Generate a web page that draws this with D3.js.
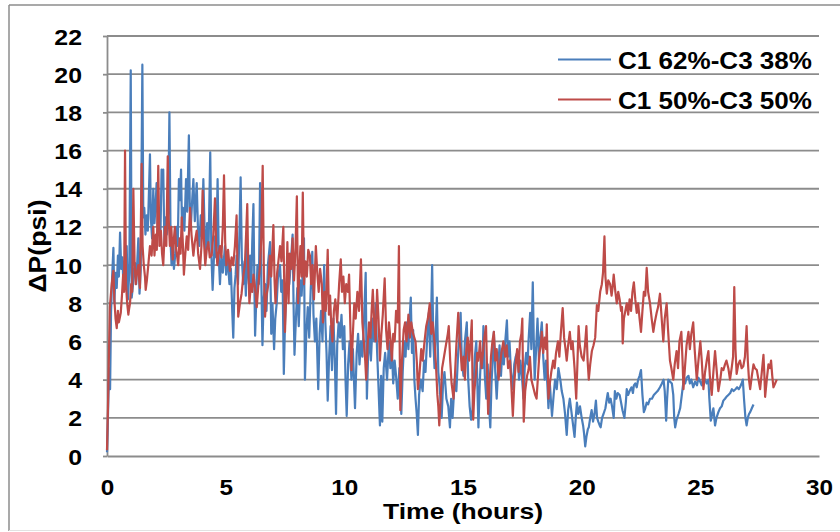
<!DOCTYPE html>
<html>
<head>
<meta charset="utf-8">
<script src="https://cdn.jsdelivr.net/npm/d3@7"></script>
<style>
  html, body { margin: 0; padding: 0; background: #ffffff; }
  svg { display: block; }
  text { font-family: "Liberation Sans", Arial, sans-serif; font-weight: bold; fill: #000; }
</style>
</head>
<body>
<svg id="chart" width="840" height="532"></svg>
<script>
// ---------------- DATA ----------------
const xTickValues = [0, 5, 10, 15, 20, 25, 30];
const yTickValues = [0, 2, 4, 6, 8, 10, 12, 14, 16, 18, 20, 22];
const xTitle = "Time (hours)";
const yTitle = "\u0394P(psi)";
const seriesNames = ["C1 62%-C3 38%", "C1 50%-C3 50%"];

// [time (hours), ΔP (psi)]
const blueSeries = [[0,0.2],[0.03,1.5],[0.06,3.2],[0.1,4.6],[0.13,3.5],[0.17,7.5],[0.22,9.5],[0.27,10.9],[0.31,8.0],[0.36,9.6],[0.41,8.8],[0.46,10.5],[0.5,9.4],[0.55,11.7],[0.6,9.8],[0.65,10.4],[0.69,9.0],[0.74,10.2],[0.79,9.2],[0.83,11.0],[0.88,8.2],[0.94,9.6],[1.0,20.2],[1.04,8.3],[1.09,8.9],[1.14,9.8],[1.18,10.1],[1.23,9.0],[1.28,10.3],[1.32,11.4],[1.37,8.5],[1.42,9.7],[1.49,20.5],[1.53,12.5],[1.57,13.0],[1.62,11.6],[1.67,12.6],[1.72,11.8],[1.76,13.5],[1.81,15.8],[1.85,12.4],[1.9,11.4],[1.95,14.0],[2.0,12.2],[2.05,13.2],[2.09,14.3],[2.14,12.0],[2.19,13.0],[2.25,11.5],[2.3,15.0],[2.34,14.0],[2.37,15.0],[2.42,11.0],[2.47,12.5],[2.52,11.6],[2.58,12.8],[2.63,18.0],[2.68,11.2],[2.72,10.0],[2.77,11.0],[2.82,9.8],[2.88,10.6],[2.93,12.0],[2.98,11.0],[3.03,14.5],[3.07,13.4],[3.12,15.0],[3.16,12.0],[3.2,13.0],[3.26,11.8],[3.33,14.5],[3.38,12.8],[3.45,16.8],[3.49,13.0],[3.53,12.0],[3.58,13.2],[3.64,14.5],[3.7,12.3],[3.78,14.3],[3.83,12.0],[3.89,11.0],[3.95,12.6],[4.0,11.5],[4.06,14.5],[4.11,12.0],[4.17,10.5],[4.22,12.2],[4.28,11.0],[4.35,15.9],[4.4,10.5],[4.45,8.7],[4.5,10.2],[4.55,11.5],[4.6,10.4],[4.66,14.5],[4.71,10.4],[4.76,9.0],[4.82,10.5],[4.88,9.6],[4.97,11.0],[5.02,9.5],[5.08,10.4],[5.16,9.0],[5.22,9.8],[5.28,7.5],[5.32,6.2],[5.37,8.8],[5.42,9.5],[5.46,10.5],[5.52,9.0],[5.58,11.6],[5.63,14.6],[5.68,10.4],[5.74,9.0],[5.8,10.2],[5.85,8.4],[5.89,11.0],[5.94,9.6],[5.98,9.0],[6.03,10.5],[6.08,8.8],[6.12,11.2],[6.17,13.2],[6.21,9.0],[6.24,6.3],[6.3,8.6],[6.34,10.0],[6.4,9.0],[6.45,14.3],[6.5,9.4],[6.55,5.8],[6.6,8.2],[6.66,9.0],[6.72,7.6],[6.78,10.0],[6.87,11.2],[6.92,6.4],[6.97,8.0],[7.04,5.6],[7.09,7.2],[7.15,8.0],[7.2,9.3],[7.29,10.0],[7.34,8.6],[7.4,9.2],[7.45,4.3],[7.5,7.0],[7.56,8.8],[7.62,9.6],[7.68,9.0],[7.75,10.2],[7.82,11.6],[7.86,8.0],[7.9,5.3],[7.96,7.2],[8.02,8.8],[8.08,6.8],[8.14,9.2],[8.2,8.4],[8.26,10.0],[8.3,11.4],[8.34,4.0],[8.4,6.5],[8.46,7.8],[8.52,6.2],[8.58,8.6],[8.65,10.7],[8.7,7.4],[8.76,6.0],[8.82,7.2],[8.9,3.5],[8.96,6.4],[9.02,7.6],[9.08,6.0],[9.15,10.0],[9.2,7.0],[9.25,5.4],[9.3,2.9],[9.36,5.2],[9.42,6.8],[9.48,4.5],[9.54,7.2],[9.6,5.0],[9.65,2.2],[9.7,5.8],[9.76,7.0],[9.82,6.2],[9.88,7.4],[9.94,5.6],[10.0,6.8],[10.05,4.0],[10.1,2.1],[10.16,4.8],[10.22,6.0],[10.3,4.0],[10.36,5.6],[10.45,2.5],[10.52,5.4],[10.58,6.4],[10.64,4.8],[10.7,6.0],[10.76,5.2],[10.82,6.8],[10.9,9.6],[10.95,3.0],[11.0,5.2],[11.06,6.4],[11.12,5.0],[11.2,7.2],[11.26,6.0],[11.32,8.0],[11.38,5.5],[11.44,3.6],[11.5,1.6],[11.55,4.2],[11.6,1.8],[11.66,4.6],[11.72,5.4],[11.8,4.0],[11.88,6.0],[11.94,4.6],[12.0,5.6],[12.06,3.8],[12.12,5.0],[12.18,4.2],[12.25,3.0],[12.32,4.6],[12.4,2.2],[12.46,4.4],[12.52,6.0],[12.58,5.2],[12.64,7.0],[12.7,5.6],[12.76,7.4],[12.8,8.3],[12.85,5.4],[12.9,6.6],[12.95,4.0],[13.0,3.0],[13.05,2.2],[13.1,1.1],[13.15,3.2],[13.22,4.0],[13.3,3.4],[13.36,5.0],[13.42,4.4],[13.5,6.4],[13.56,7.5],[13.62,5.2],[13.7,10.0],[13.75,6.0],[13.8,4.6],[13.86,6.8],[13.9,8.3],[13.96,4.4],[14.02,3.6],[14.1,2.0],[14.16,3.8],[14.22,4.4],[14.3,3.0],[14.38,2.6],[14.45,1.5],[14.5,3.0],[14.56,2.0],[14.65,4.0],[14.72,3.4],[14.8,5.5],[14.86,6.4],[14.9,7.5],[14.95,5.0],[15.02,4.2],[15.08,6.0],[15.16,7.0],[15.22,4.0],[15.28,2.6],[15.34,1.9],[15.4,2.4],[15.45,3.8],[15.5,5.2],[15.56,6.0],[15.6,4.0],[15.65,1.5],[15.7,3.6],[15.76,5.4],[15.82,4.6],[15.86,6.8],[15.92,4.2],[15.98,3.0],[16.04,4.8],[16.1,2.6],[16.15,1.5],[16.2,3.8],[16.26,5.2],[16.3,6.5],[16.36,4.4],[16.42,3.0],[16.48,4.6],[16.54,5.8],[16.6,4.2],[16.66,5.6],[16.72,4.8],[16.78,6.0],[16.85,7.1],[16.9,5.2],[16.96,6.0],[17.02,4.4],[17.1,3.5],[17.16,4.8],[17.22,5.2],[17.3,5.5],[17.36,4.0],[17.42,5.0],[17.48,4.2],[17.55,3.0],[17.6,4.6],[17.66,5.4],[17.72,4.8],[17.76,6.0],[17.83,7.5],[17.88,5.6],[17.94,9.1],[17.98,6.2],[18.02,4.0],[18.08,5.6],[18.14,7.2],[18.2,5.0],[18.26,6.2],[18.32,7.0],[18.38,5.2],[18.44,4.0],[18.5,5.0],[18.56,3.6],[18.6,2.5],[18.66,3.8],[18.7,3.0],[18.75,2.1],[18.82,3.2],[18.88,4.0],[18.95,3.5],[19.02,4.6],[19.1,4.0],[19.16,3.4],[19.23,3.0],[19.3,2.2],[19.37,1.1],[19.43,2.4],[19.5,3.0],[19.56,2.4],[19.62,1.8],[19.7,1.0],[19.75,2.0],[19.8,2.8],[19.86,2.2],[19.93,2.6],[20.0,2.0],[20.06,1.6],[20.1,1.2],[20.15,0.5],[20.2,1.0],[20.26,1.4],[20.3,1.5],[20.36,2.0],[20.42,2.4],[20.48,1.8],[20.54,2.2],[20.6,2.9],[20.65,2.0],[20.7,1.8],[20.76,1.6],[20.8,1.5],[20.86,2.0],[20.92,2.2],[21.0,2.5],[21.06,3.0],[21.1,3.3],[21.16,2.8],[21.22,3.0],[21.28,2.6],[21.35,2.0],[21.4,3.4],[21.46,3.0],[21.52,3.3],[21.6,3.2],[21.66,2.8],[21.72,2.4],[21.8,2.0],[21.86,2.8],[21.9,3.5],[21.96,3.2],[22.02,3.4],[22.1,3.6],[22.16,3.3],[22.2,3.7],[22.26,3.8],[22.32,3.6],[22.38,4.0],[22.44,4.2],[22.5,4.5],[22.56,3.2],[22.62,2.3],[22.68,2.5],[22.74,2.8],[22.8,2.7],[22.88,3.0],[22.96,3.0],[23.04,3.2],[23.12,3.3],[23.2,3.4],[23.3,3.6],[23.38,3.8],[23.45,4.0],[23.5,3.4],[23.56,1.85],[23.6,3.0],[23.65,4.0],[23.72,3.9],[23.8,3.8],[23.86,3.2],[23.9,2.0],[23.94,1.5],[24.0,1.9],[24.08,2.2],[24.15,2.5],[24.22,3.2],[24.3,4.0],[24.36,3.8],[24.42,4.1],[24.5,4.2],[24.56,3.8],[24.62,4.0],[24.7,3.6],[24.78,3.9],[24.86,3.7],[24.92,4.1],[24.99,3.9],[25.06,3.7],[25.12,4.1],[25.2,4.0],[25.27,3.8],[25.34,4.0],[25.38,3.0],[25.44,1.85],[25.5,2.2],[25.55,2.5],[25.62,1.6],[25.68,2.0],[25.76,2.3],[25.83,2.5],[25.9,2.6],[25.97,2.9],[26.04,3.0],[26.1,3.1],[26.18,3.2],[26.26,3.3],[26.33,3.5],[26.4,3.4],[26.48,3.5],[26.55,3.6],[26.62,3.5],[26.67,3.6],[26.74,3.8],[26.79,4.0],[26.84,3.0],[26.9,2.0],[26.95,1.6],[27.0,2.0],[27.05,2.2],[27.1,2.3],[27.17,2.5],[27.24,2.7]];

const redSeries = [[0,0.3],[0.04,2.5],[0.08,5.2],[0.12,7.8],[0.16,8.4],[0.2,9.0],[0.27,9.7],[0.31,8.2],[0.36,7.2],[0.41,6.7],[0.46,7.6],[0.5,7.0],[0.55,7.3],[0.58,7.5],[0.63,8.4],[0.68,9.5],[0.72,8.6],[0.76,16.0],[0.8,9.0],[0.85,8.0],[0.9,7.4],[0.93,7.7],[0.97,8.0],[1.02,9.0],[1.06,8.6],[1.11,14.0],[1.16,10.2],[1.21,9.0],[1.26,9.6],[1.32,10.0],[1.36,9.2],[1.39,8.8],[1.46,15.3],[1.5,11.0],[1.55,10.0],[1.6,9.4],[1.63,8.7],[1.68,9.2],[1.74,10.0],[1.81,11.0],[1.88,10.5],[1.95,12.0],[2.0,10.5],[2.06,11.6],[2.1,10.8],[2.16,15.2],[2.21,11.0],[2.27,11.8],[2.32,10.6],[2.37,10.0],[2.44,12.0],[2.5,11.0],[2.56,15.7],[2.6,12.4],[2.65,11.0],[2.71,12.0],[2.77,10.3],[2.82,11.4],[2.86,12.0],[2.92,10.8],[3.0,10.0],[3.06,11.4],[3.1,10.6],[3.15,12.5],[3.2,11.0],[3.24,9.5],[3.3,10.6],[3.36,11.5],[3.42,10.8],[3.5,13.0],[3.56,11.6],[3.64,10.5],[3.7,11.2],[3.78,11.8],[3.84,10.6],[3.92,9.8],[3.98,11.0],[4.03,13.9],[4.08,11.4],[4.14,10.0],[4.2,10.8],[4.27,11.2],[4.33,10.4],[4.41,10.5],[4.48,11.6],[4.55,13.5],[4.6,11.0],[4.65,10.0],[4.7,10.6],[4.76,11.0],[4.82,10.4],[4.88,12.0],[4.93,14.7],[4.98,11.2],[5.03,10.0],[5.1,10.8],[5.18,9.7],[5.25,10.4],[5.32,10.0],[5.39,11.0],[5.46,12.6],[5.5,9.6],[5.53,7.3],[5.6,8.0],[5.67,8.5],[5.74,9.4],[5.81,10.0],[5.86,11.6],[5.91,13.2],[5.95,10.0],[6.0,8.0],[6.06,9.0],[6.12,8.6],[6.17,9.5],[6.24,8.8],[6.31,7.8],[6.38,9.0],[6.45,10.0],[6.5,11.4],[6.56,15.2],[6.61,9.6],[6.66,7.3],[6.72,8.4],[6.8,9.0],[6.86,10.5],[6.92,9.4],[7.01,12.1],[7.06,9.2],[7.1,8.0],[7.17,9.6],[7.24,10.4],[7.29,11.0],[7.35,10.2],[7.43,12.0],[7.5,6.5],[7.56,9.0],[7.6,11.2],[7.65,8.0],[7.7,10.6],[7.76,9.8],[7.82,11.4],[7.88,9.2],[7.94,10.8],[8.0,13.6],[8.05,8.0],[8.1,9.6],[8.15,11.0],[8.2,9.4],[8.25,13.8],[8.3,9.0],[8.36,10.2],[8.42,9.4],[8.48,10.8],[8.55,10.5],[8.6,9.0],[8.66,10.0],[8.72,8.2],[8.8,11.0],[8.86,9.6],[8.92,8.6],[8.98,9.8],[9.05,9.0],[9.1,7.0],[9.16,8.6],[9.22,7.6],[9.3,10.8],[9.35,7.4],[9.4,8.4],[9.45,6.8],[9.5,6.0],[9.56,7.6],[9.62,8.2],[9.7,7.0],[9.78,9.0],[9.85,10.3],[9.9,8.6],[9.96,9.4],[10.02,8.0],[10.08,9.0],[10.15,8.6],[10.2,9.5],[10.25,7.0],[10.3,4.5],[10.36,6.4],[10.42,8.0],[10.48,7.2],[10.55,8.6],[10.62,7.6],[10.7,10.3],[10.76,7.0],[10.82,6.0],[10.88,5.0],[10.92,4.0],[10.98,5.8],[11.04,7.0],[11.1,6.2],[11.15,7.6],[11.2,8.7],[11.26,7.0],[11.32,6.0],[11.38,8.7],[11.44,7.2],[11.5,5.0],[11.56,6.4],[11.62,7.4],[11.7,9.3],[11.76,6.6],[11.82,5.6],[11.88,7.0],[11.95,6.0],[12.0,5.0],[12.06,6.4],[12.12,6.0],[12.18,7.6],[12.25,7.0],[12.3,11.0],[12.33,6.0],[12.36,2.4],[12.42,4.8],[12.5,6.6],[12.56,7.0],[12.62,6.0],[12.7,7.4],[12.76,6.2],[12.82,7.0],[12.9,6.4],[13.0,6.0],[13.06,4.8],[13.1,3.5],[13.16,4.2],[13.24,5.6],[13.3,5.0],[13.38,6.0],[13.45,6.8],[13.52,7.2],[13.6,8.0],[13.66,6.4],[13.72,7.0],[13.8,6.0],[13.86,4.8],[13.92,3.2],[13.96,2.6],[14.0,1.6],[14.06,3.0],[14.12,4.6],[14.2,5.2],[14.28,5.8],[14.36,6.4],[14.4,6.8],[14.46,5.0],[14.52,3.8],[14.6,3.0],[14.66,4.2],[14.72,5.8],[14.8,7.5],[14.86,6.0],[14.9,5.5],[14.95,4.5],[15.02,5.2],[15.08,4.0],[15.14,5.6],[15.2,6.2],[15.26,5.0],[15.32,6.0],[15.37,7.1],[15.4,4.0],[15.43,1.9],[15.48,3.4],[15.55,4.4],[15.6,5.4],[15.65,5.0],[15.72,6.0],[15.78,4.6],[15.84,5.4],[15.9,6.2],[15.97,6.8],[16.02,4.2],[16.06,2.2],[16.12,3.8],[16.18,5.2],[16.24,6.0],[16.3,6.5],[16.36,5.0],[16.42,5.6],[16.5,4.0],[16.56,4.8],[16.62,5.4],[16.7,6.0],[16.78,5.2],[16.84,5.8],[16.9,4.6],[16.98,5.0],[17.04,3.6],[17.1,2.1],[17.16,3.8],[17.22,4.8],[17.28,5.6],[17.34,4.4],[17.4,6.0],[17.46,6.4],[17.5,7.2],[17.53,4.0],[17.56,1.8],[17.62,3.4],[17.7,4.2],[17.76,4.5],[17.82,5.2],[17.88,4.0],[17.96,3.6],[18.04,3.2],[18.1,3.0],[18.16,4.2],[18.22,5.4],[18.28,5.8],[18.32,6.5],[18.38,5.4],[18.44,6.2],[18.5,5.6],[18.53,6.9],[18.57,4.6],[18.6,3.0],[18.66,3.8],[18.72,4.4],[18.8,5.0],[18.86,4.6],[18.92,5.4],[19.0,6.0],[19.06,5.2],[19.12,6.4],[19.2,7.75],[19.26,6.2],[19.32,5.6],[19.37,5.0],[19.43,5.8],[19.5,6.5],[19.56,5.6],[19.62,6.0],[19.7,4.6],[19.77,3.0],[19.82,4.8],[19.87,6.8],[19.92,5.8],[20.0,5.2],[20.08,5.0],[20.14,5.8],[20.2,6.8],[20.25,5.0],[20.3,4.0],[20.36,4.8],[20.43,5.5],[20.5,5.8],[20.57,6.2],[20.64,7.9],[20.7,7.6],[20.78,8.6],[20.85,9.0],[20.9,9.6],[20.96,11.5],[21.0,9.4],[21.06,8.5],[21.12,9.2],[21.2,9.0],[21.26,8.4],[21.3,8.8],[21.35,9.5],[21.42,8.6],[21.48,8.0],[21.54,8.6],[21.6,8.2],[21.66,7.6],[21.7,7.8],[21.73,5.9],[21.78,7.2],[21.84,7.6],[21.9,8.0],[21.96,7.4],[22.02,8.2],[22.08,7.6],[22.14,8.6],[22.2,9.1],[22.26,8.2],[22.32,7.5],[22.38,8.0],[22.44,7.2],[22.5,6.5],[22.56,7.6],[22.62,8.6],[22.68,8.4],[22.74,9.85],[22.8,8.6],[22.88,8.0],[22.95,7.2],[23.02,6.5],[23.08,7.0],[23.16,7.5],[23.22,7.8],[23.3,8.5],[23.36,7.4],[23.44,6.0],[23.5,7.2],[23.58,8.0],[23.64,6.6],[23.72,5.0],[23.78,4.6],[23.86,4.0],[23.92,4.8],[24.0,5.5],[24.06,4.6],[24.12,6.0],[24.2,6.5],[24.25,5.0],[24.29,3.5],[24.35,4.6],[24.42,5.8],[24.5,6.5],[24.56,5.6],[24.62,6.4],[24.7,7.0],[24.76,5.6],[24.85,4.0],[24.92,5.0],[25.0,6.0],[25.06,5.0],[25.13,3.5],[25.2,4.4],[25.27,5.0],[25.34,5.5],[25.4,4.2],[25.48,3.2],[25.55,4.4],[25.62,5.5],[25.68,4.6],[25.76,3.4],[25.84,4.0],[25.9,4.6],[25.97,4.5],[26.04,4.8],[26.1,5.0],[26.18,4.6],[26.25,4.0],[26.32,4.6],[26.38,5.2],[26.43,8.85],[26.48,5.6],[26.53,4.3],[26.6,4.8],[26.67,5.0],[26.74,4.6],[26.81,4.7],[26.88,5.2],[26.95,6.8],[27.0,5.0],[27.05,4.0],[27.1,3.5],[27.17,4.2],[27.24,4.8],[27.3,4.6],[27.38,4.5],[27.45,4.0],[27.52,3.5],[27.59,4.4],[27.66,5.3],[27.7,4.2],[27.73,3.1],[27.8,4.0],[27.87,4.8],[27.93,4.6],[27.98,5.0],[28.03,4.2],[28.08,3.6],[28.15,3.8],[28.22,4.0]];

const seriesColors = ["#4a7ebb", "#be4b48"];

// ---------------- LAYOUT ----------------
const svg = d3.select("#chart");
const plot = { left: 107, right: 819, top: 36, bottom: 456 };
const gridColor = "#8c8c8c";
const stretch = 1.13; // horizontal stretch of the reference lettering

const x = d3.scaleLinear().domain([0, 30]).range([plot.left, plot.right]);
const y = d3.scaleLinear().domain([0, 22]).range([plot.bottom, plot.top]);

// outer frame
svg.append("line").attr("x1", 9).attr("x2", 9).attr("y1", 5).attr("y2", 531)
  .attr("stroke", gridColor).attr("stroke-width", 1.5);
svg.append("line").attr("x1", 9).attr("x2", 840).attr("y1", 5).attr("y2", 5)
  .attr("stroke", gridColor).attr("stroke-width", 1.5);
svg.append("line").attr("x1", 9).attr("x2", 840).attr("y1", 530.5).attr("y2", 530.5)
  .attr("stroke", "#e2e2e2").attr("stroke-width", 1);

// horizontal gridlines
svg.append("g")
  .selectAll("line")
  .data(yTickValues.filter(v => v > 0))
  .join("line")
  .attr("x1", plot.left).attr("x2", plot.right)
  .attr("y1", d => y(d)).attr("y2", d => y(d))
  .attr("stroke", gridColor).attr("stroke-width", 1.8);

// Y axis
const yAxis = svg.append("g")
  .attr("transform", `translate(${plot.left},0)`)
  .call(d3.axisLeft(y).tickValues(yTickValues).tickSize(4).tickSizeOuter(0).tickPadding(21));
yAxis.select(".domain").attr("stroke", gridColor).attr("stroke-width", 1.8);
yAxis.selectAll(".tick line").attr("stroke", gridColor).attr("stroke-width", 1.8);
yAxis.selectAll(".tick text")
  .attr("dy", null).attr("y", 8)
  .style("font-size", "22px").style("font-weight", "bold")
  .style("font-family", '"Liberation Sans", Arial, sans-serif').attr("fill", "#000")
  .attr("transform", function () {
    const tx = +d3.select(this).attr("x");
    return `translate(${tx},0) scale(${stretch},1) translate(${-tx},0)`;
  });

// X axis
const xAxis = svg.append("g")
  .attr("transform", `translate(0,${plot.bottom})`)
  .call(d3.axisBottom(x).tickValues(xTickValues).tickSize(0).tickSizeOuter(0).tickPadding(0));
xAxis.select(".domain").attr("stroke", gridColor).attr("stroke-width", 1.8);
xAxis.selectAll(".tick text")
  .attr("dy", null).attr("y", 39)
  .style("font-size", "21.5px").style("font-weight", "bold")
  .style("font-family", '"Liberation Sans", Arial, sans-serif').attr("fill", "#000")
  .attr("transform", `scale(${stretch},1)`);

// series lines
const line = d3.line().x(d => x(d[0])).y(d => y(d[1]));
[blueSeries, redSeries].forEach((s, i) => {
  svg.append("path")
    .datum(s)
    .attr("fill", "none")
    .attr("stroke", seriesColors[i])
    .attr("stroke-width", 2.2)
    .attr("stroke-linejoin", "round")
    .attr("d", line);
});

// axis titles
svg.append("text")
  .attr("x", (plot.left + plot.right) / 2).attr("y", 519)
  .attr("text-anchor", "middle")
  .attr("textLength", 160).attr("lengthAdjust", "spacingAndGlyphs")
  .style("font-size", "21.5px")
  .text(xTitle);

svg.append("text")
  .attr("transform", `translate(46,246) rotate(-90)`)
  .attr("text-anchor", "middle")
  .attr("textLength", 93).attr("lengthAdjust", "spacingAndGlyphs")
  .style("font-size", "23px")
  .text(yTitle);

// legend
const legend = svg.append("g");
const legendY = [59.5, 99.5];
seriesNames.forEach((name, i) => {
  legend.append("line")
    .attr("x1", 558).attr("x2", 611)
    .attr("y1", legendY[i]).attr("y2", legendY[i])
    .attr("stroke", seriesColors[i]).attr("stroke-width", 2);
  legend.append("text")
    .attr("x", 618).attr("y", legendY[i] + 9)
    .attr("textLength", 194).attr("lengthAdjust", "spacingAndGlyphs")
    .style("font-size", "23px")
    .text(name);
});
</script>
</body>
</html>
